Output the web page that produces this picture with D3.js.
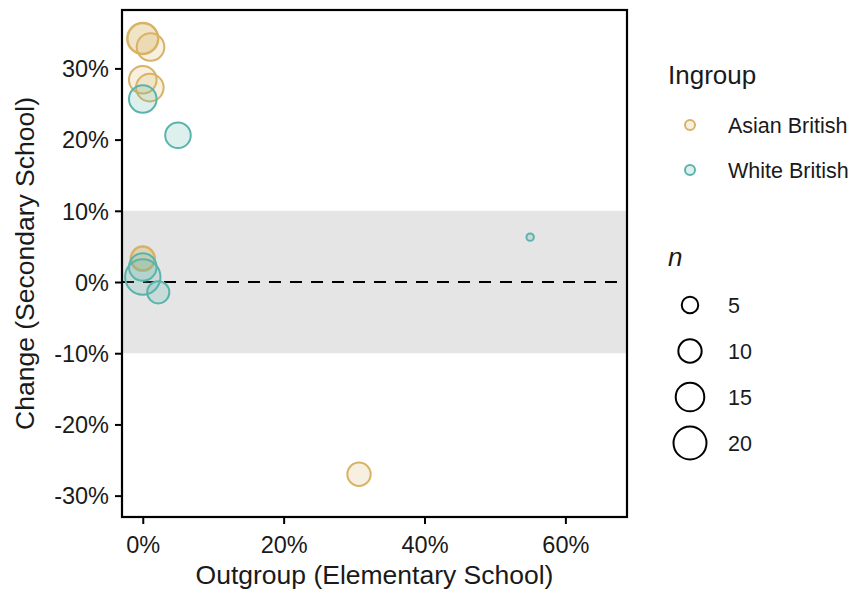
<!DOCTYPE html>
<html><head><meta charset="utf-8">
<script src="https://cdn.jsdelivr.net/npm/d3@7"></script>
<style>body{margin:0;background:#fff;} text{font-family:"Liberation Sans",Arial,sans-serif;}</style>
</head><body>
<svg id="chart" width="853" height="592"></svg>
<script>
const groups = ["Asian British", "White British"];
const groupColors = ["#D8B365", "#5AB4AC"];
const asianX = [0, 0, 1.1, 0, 1.0, 0, 0, 30.7];
const asianY = [34.2, 34.2, 33.0, 28.4, 27.3, 3.3, 3.3, -27.0];
const asianN = [18, 17, 14, 14, 14, 11, 10, 10];
const whiteX = [0, 5.0, 0, 0, 2.2, 55.0];
const whiteY = [25.7, 20.6, 0.7, 2.1, -1.45, 6.3];
const whiteN = [14, 12, 23, 14, 9, 1];
const xTicks = [0, 20, 40, 60];
const yTicks = [-30, -20, -10, 0, 10, 20, 30];
const sizeBreaks = [5, 10, 15, 20];

const svg = d3.select("#chart");
const P = {l: 122, r: 627, t: 10, b: 517};
const x = d3.scaleLinear().domain([-2.95, 68.75]).range([P.l, P.r]);
const y = d3.scaleLinear().domain([-33.0, 38.2]).range([P.b, P.t]);
const r = d3.scaleSqrt().domain([0, 20]).range([0, 16.5]);
const color = d3.scaleOrdinal().domain(groups).range(groupColors);

const pts = [];
asianX.forEach((v, i) => pts.push({g: groups[0], x: v, y: asianY[i], n: asianN[i]}));
whiteX.forEach((v, i) => pts.push({g: groups[1], x: v, y: whiteY[i], n: whiteN[i]}));

// band
svg.append("rect").attr("x", P.l).attr("width", P.r - P.l)
  .attr("y", y(10)).attr("height", y(-10) - y(10)).attr("fill", "#E5E5E5");
// dashed zero line
svg.append("line").attr("x1", P.l).attr("x2", P.r).attr("y1", y(0)).attr("y2", y(0))
  .attr("stroke", "#000").attr("stroke-width", 2.2).attr("stroke-dasharray", "12,9");

// points
svg.append("g").selectAll("circle").data(pts).join("circle")
  .attr("cx", d => x(d.x)).attr("cy", d => y(d.y)).attr("r", d => r(d.n))
  .attr("fill", d => color(d.g)).attr("fill-opacity", 0.2)
  .attr("stroke", d => color(d.g)).attr("stroke-width", 2);

// panel border
svg.append("rect").attr("x", P.l).attr("y", P.t).attr("width", P.r - P.l).attr("height", P.b - P.t)
  .attr("fill", "none").attr("stroke", "#000").attr("stroke-width", 2.2);

// axes
const xAxis = svg.append("g").attr("transform", `translate(0,${P.b})`)
  .call(d3.axisBottom(x).tickValues(xTicks).tickFormat(d => d + "%").tickSize(7).tickPadding(12));
const yAxis = svg.append("g").attr("transform", `translate(${P.l},0)`)
  .call(d3.axisLeft(y).tickValues(yTicks).tickFormat(d => d + "%").tickSize(7).tickPadding(6));
[xAxis, yAxis].forEach(a => {
  a.select(".domain").remove();
  a.selectAll(".tick line").attr("stroke", "#000").attr("stroke-width", 2);
  a.selectAll(".tick text").attr("font-size", 23.5).attr("fill", "#1a1a1a")
    .style("font-family", "'Liberation Sans', Arial, sans-serif");
});
yAxis.selectAll(".tick text").attr("dy", "0.35em");

svg.append("text").attr("x", (P.l + P.r) / 2).attr("y", 584).attr("text-anchor", "middle")
  .attr("font-size", 26.5).attr("fill", "#1a1a1a").text("Outgroup (Elementary School)");
svg.append("text").attr("transform", `translate(34,${(P.t + P.b) / 2}) rotate(-90)`)
  .attr("text-anchor", "middle").attr("font-size", 26.5).attr("fill", "#1a1a1a").text("Change (Secondary School)");

// legend: Ingroup
const lg = svg.append("g");
lg.append("text").attr("x", 668).attr("y", 84).attr("font-size", 26).attr("fill", "#1a1a1a").text("Ingroup");
groups.forEach((g, i) => {
  const cy = 125 + i * 45;
  lg.append("circle").attr("cx", 690).attr("cy", cy).attr("r", 5)
    .attr("fill", color(g)).attr("fill-opacity", 0.2).attr("stroke", color(g)).attr("stroke-width", 2);
  lg.append("text").attr("x", 728).attr("y", cy).attr("dy", "0.35em").attr("font-size", 21.5)
    .attr("fill", "#1a1a1a").text(g);
});
// legend: n
lg.append("text").attr("x", 668).attr("y", 266).attr("font-size", 26).attr("font-style", "italic")
  .attr("fill", "#1a1a1a").text("n");
sizeBreaks.forEach((s, i) => {
  const cy = 305 + i * 46;
  lg.append("circle").attr("cx", 690).attr("cy", cy).attr("r", r(s))
    .attr("fill", "none").attr("stroke", "#000").attr("stroke-width", 2);
  lg.append("text").attr("x", 728).attr("y", cy).attr("dy", "0.35em").attr("font-size", 21.5)
    .attr("fill", "#1a1a1a").text(s);
});
</script>
</body></html>
